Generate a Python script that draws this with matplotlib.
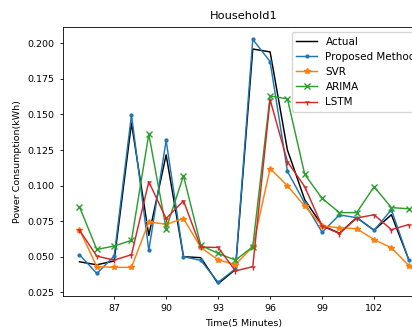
import matplotlib
matplotlib.use("Agg")
import matplotlib.pyplot as plt
import numpy as np

time = list(range(85, 105))
actual = [0.0464, 0.0443, 0.047, 0.144, 0.065, 0.1216, 0.050, 0.0493, 0.031, 0.041,
          0.196, 0.194, 0.125, 0.090, 0.072, 0.0665, 0.0775, 0.0686, 0.0795, 0.048]
proposed = [0.0514, 0.0382, 0.0504, 0.1498, 0.0544, 0.1317, 0.050, 0.0474, 0.032, 0.0415,
            0.2028, 0.1872, 0.110, 0.0876, 0.0672, 0.0794, 0.0774, 0.0686, 0.083, 0.0478]
svr = [0.069, 0.043, 0.0425, 0.0425, 0.0744, 0.0728, 0.0768, 0.0565, 0.0478, 0.0445,
       0.057, 0.112, 0.0999, 0.0855, 0.0717, 0.0703, 0.0697, 0.062, 0.0563, 0.0438]
arima = [0.085, 0.0551, 0.0575, 0.0615, 0.1362, 0.0697, 0.1069, 0.058, 0.0523, 0.0476,
         0.057, 0.163, 0.161, 0.1078, 0.091, 0.081, 0.081, 0.0992, 0.0845, 0.0837]
lstm = [0.0686, 0.0504, 0.0476, 0.0514, 0.1027, 0.0768, 0.0893, 0.0567, 0.0565, 0.0400,
        0.043, 0.1604, 0.1168, 0.0992, 0.0715, 0.0663, 0.0772, 0.0795, 0.069, 0.0726]
xticks = [87, 90, 93, 96, 99, 102]

plt.rcParams['font.size'] = 6.8
fig = plt.figure(figsize=(4.12, 3.27), dpi=100)
ax = fig.add_axes([0.153, 0.095, 0.879, 0.822])

lw = 1.05
ms = 4.1
ax.plot(time, actual, color='black', lw=lw, label='Actual')
ax.plot(time, proposed, color='C0', lw=lw, marker='.', ms=ms, label='Proposed Method')
ax.plot(time, svr, color='C1', lw=lw, marker='*', ms=ms, label='SVR')
ax.plot(time, arima, color='C2', lw=lw, marker='x', ms=ms, label='ARIMA')
ax.plot(time, lstm, color='C3', lw=lw, marker='1', ms=ms, label='LSTM')

ax.set_xticks(xticks)
ax.set_title('Household1', fontsize=8.2)
ax.set_xlabel('Time(5 Minutes)')
ax.set_ylabel('Power Consumption(kWh)')
ax.legend(loc='upper right', fontsize=7.5)
for s in ax.spines.values():
    s.set_linewidth(0.6)
ax.tick_params(width=0.6, length=2.4)

fig.savefig('out.png', dpi=100)
